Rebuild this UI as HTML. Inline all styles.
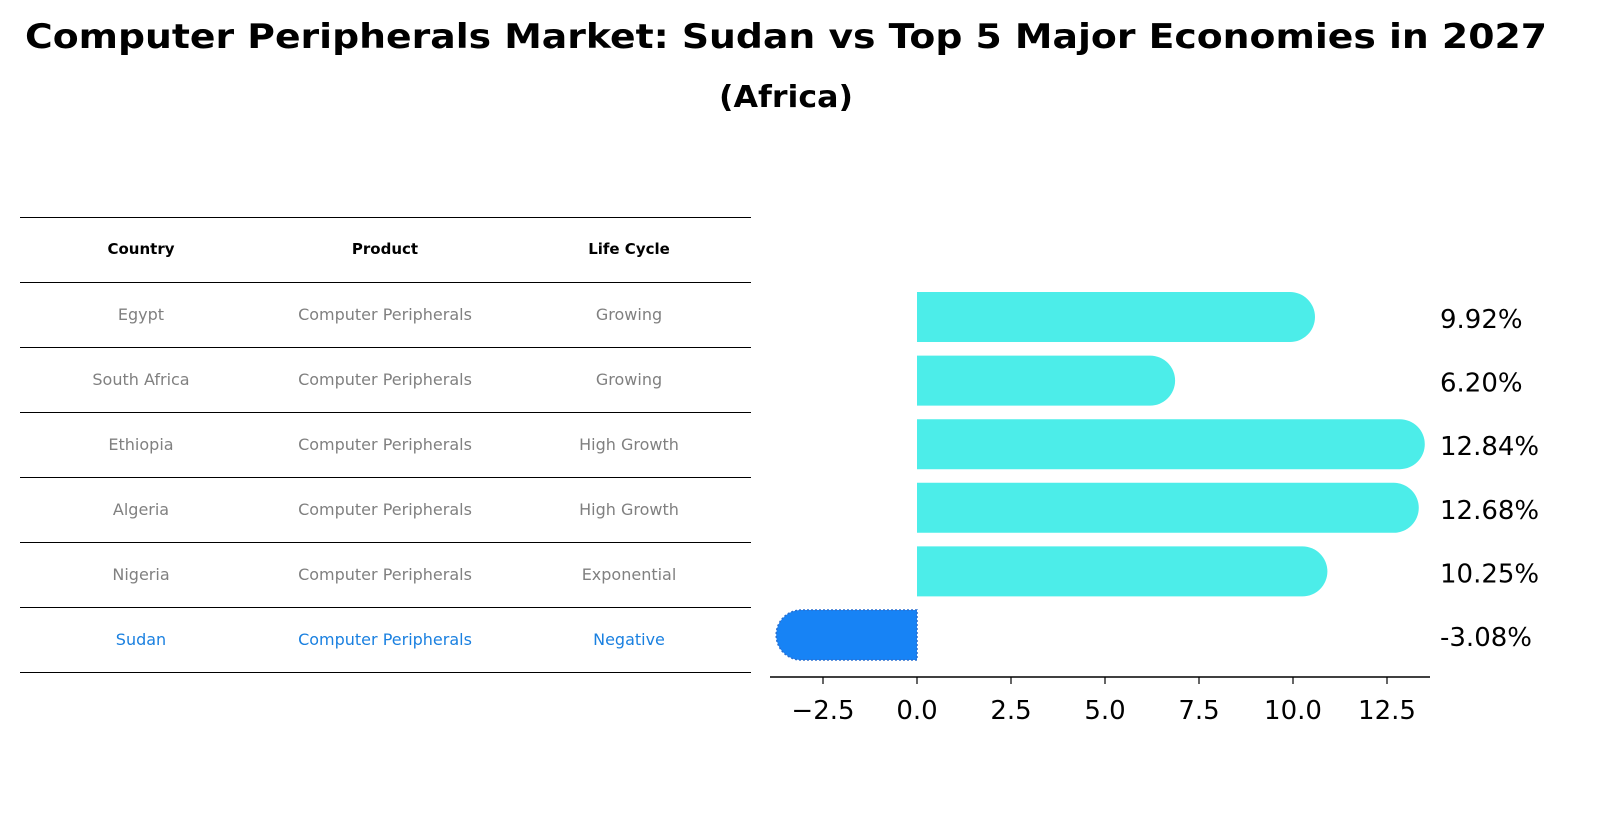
<!DOCTYPE html>
<html><head><meta charset="utf-8"><style>
body{margin:0;background:#fff;font-family:"Liberation Sans","DejaVu Sans",sans-serif}
svg text{font-family:"DejaVu Sans","Liberation Sans",sans-serif}
</style></head><body>
<svg id="chart" width="1610" height="823" xmlns="http://www.w3.org/2000/svg">
<rect width="1610" height="823" fill="#fff"/>
<text x="786" y="48" text-anchor="middle" font-size="34" font-weight="bold" textLength="1522" lengthAdjust="spacingAndGlyphs">Computer Peripherals Market: Sudan vs Top 5 Major Economies in 2027</text>
<text x="786" y="107" text-anchor="middle" font-size="30" font-weight="bold" textLength="134" lengthAdjust="spacingAndGlyphs">(Africa)</text>
<g id="table"></g>
<g id="bars"></g>
</svg>
<script>
const countries=["Egypt","South Africa","Ethiopia","Algeria","Nigeria","Sudan"];
const lifeCycles=["Growing","Growing","High Growth","High Growth","Exponential","Negative"];
const growth=[9.92,6.20,12.84,12.68,10.25,-3.08];
const ticks=[-2.5,0.0,2.5,5.0,7.5,10.0,12.5];
const NS="http://www.w3.org/2000/svg";
function mk(tag,attrs,parent,txt){const e=document.createElementNS(NS,tag);for(const k in attrs)e.setAttribute(k,attrs[k]);if(txt!==undefined)e.textContent=txt;parent.appendChild(e);return e;}
// table
const tg=document.getElementById('table');
const rowY=i=>217+65*i;
for(let i=0;i<=7;i++){const l=mk('line',{x1:20,x2:751,y1:rowY(i)+0.5,y2:rowY(i)+0.5,stroke:'#000','stroke-width':1},tg);

}
const cx=[141,385,629];
["Country","Product","Life Cycle"].forEach((h,j)=>{const t=mk('text',{x:cx[j],y:254,'text-anchor':'middle','font-size':15,'font-weight':'bold'},tg,h);

});
countries.forEach((c,i)=>{const col=c==="Sudan"?"#1a80e0":"#808080";const y=rowY(i+1)+38;
[c,"Computer Peripherals",lifeCycles[i]].forEach((v,j)=>{const t=mk('text',{x:cx[j],y:y,'text-anchor':'middle','font-size':16,fill:col},tg,v);

});});
// bars
const bg=document.getElementById('bars');
const x0=917,ppu=37.6;
const xs=v=>x0+v*ppu;
const ys=i=>317+63.6*i;
const r=25;
growth.forEach((v,i)=>{const neg=v<0;const col=neg?"#1783f5":"#4cede9";const yc=ys(i);
const xe=xs(v);let d;
if(!neg){d=`M${x0},${yc-r}L${xe},${yc-r}A${r},${r} 0 0 1 ${xe},${yc+r}L${x0},${yc+r}Z`;}
else{d=`M${x0},${yc-r}L${xe},${yc-r}A${r},${r} 0 0 0 ${xe},${yc+r}L${x0},${yc+r}Z`;}
const p=mk('path',{d:d,fill:col},bg);
if(neg){p.setAttribute('stroke','#2a6fd0');p.setAttribute('stroke-dasharray','2 2');p.setAttribute('stroke-width','1.5');}


const t=mk('text',{x:1440,y:yc+11,'font-size':26},bg,v.toFixed(2)+'%');

});
const ax=mk('line',{x1:770,x2:1430,y1:677,y2:677,stroke:'#000','stroke-width':1.5},bg);


ticks.forEach(v=>{const tl=mk('line',{x1:xs(v),x2:xs(v),y1:677,y2:684,stroke:'#000','stroke-width':1.2},bg);


const t=mk('text',{x:xs(v),y:719,'text-anchor':'middle','font-size':26},bg,(v<0?'\u2212':'')+Math.abs(v).toFixed(1));

});
</script>
</body></html>
